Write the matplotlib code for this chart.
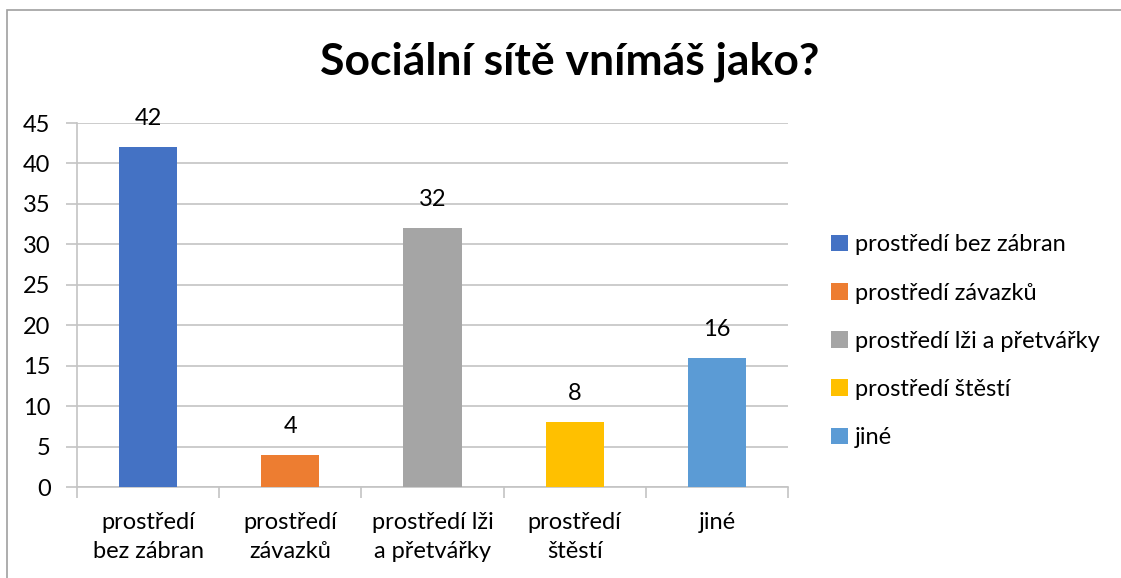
import matplotlib
matplotlib.use("Agg")
from matplotlib import pyplot as plt
from matplotlib.patches import Rectangle, Patch
import numpy as np

plt.rcParams['font.family'] = ['Lato', 'DejaVu Sans']

categories = ["prostředí\nbez zábran", "prostředí\nzávazků", "prostředí lži\na přetvářky",
              "prostředí\nštěstí", "jiné"]
legend_labels = ["prostředí bez zábran", "prostředí závazků", "prostředí lži a přetvářky",
                 "prostředí štěstí", "jiné"]
values = [42, 4, 32, 8, 16]
colors = ["#4472C4", "#ED7D31", "#A5A5A5", "#FFC000", "#5B9BD5"]
yticks = [0, 5, 10, 15, 20, 25, 30, 35, 40, 45]

W, H = 1121, 578
fig = plt.figure(figsize=(W / 100, H / 100), dpi=100)

# rámeček grafu
fig.patches.append(Rectangle((7 / W, -0.1), 1.2, 1 - 10 / H + 0.1, transform=fig.transFigure,
                             fill=False, edgecolor="#A0A0A0", linewidth=1.2))

ax = fig.add_axes([77 / W, 1 - 487 / H, (788 - 77) / W, (487 - 123) / H])
x = np.arange(len(values))
ax.bar(x, values, width=0.41, color=colors, zorder=3)
for xi, v in zip(x, values):
    ax.text(xi, v + 2.2, str(v), ha="center", va="bottom", fontsize=17, color="#000000")

ax.set_xlim(-0.5, len(values) - 0.5)
ax.set_ylim(0, 45)
ax.set_yticks(yticks)
ax.set_yticklabels([str(t) for t in yticks], fontsize=17)
ax.yaxis.grid(True, color="#C4C4C4", linewidth=1.2, zorder=0)
ax.tick_params(axis="y", length=8, color="#C4C4C4", width=1.2, pad=11)

ax.set_xticks(np.arange(-0.5, len(values), 1.0))
ax.set_xticklabels([])
ax.set_xticks(x, minor=True)
ax.set_xticklabels(categories, minor=True, fontsize=17, linespacing=1.45)
ax.tick_params(axis="x", which="major", length=8, color="#C4C4C4", width=1.2)
ax.tick_params(axis="x", which="minor", length=0, pad=18)

for s in ["top", "right"]:
    ax.spines[s].set_visible(False)
for s in ["left", "bottom"]:
    ax.spines[s].set_color("#C4C4C4")
    ax.spines[s].set_linewidth(1.2)

fig.text(570 / W, 1 - 62 / H, "Sociální sítě vnímáš jako?", ha="center", va="center",
         fontsize=32, fontweight="bold")

handles = [Patch(facecolor=c, label=l) for c, l in zip(colors, legend_labels)]
fig.legend(handles=handles, loc="upper left", bbox_to_anchor=(822 / W, 1 - 225 / H),
           frameon=False, fontsize=17, handlelength=0.7, handleheight=0.7,
           handletextpad=0.3, labelspacing=1.15, borderaxespad=0)

fig.savefig("out.png", dpi=100)
